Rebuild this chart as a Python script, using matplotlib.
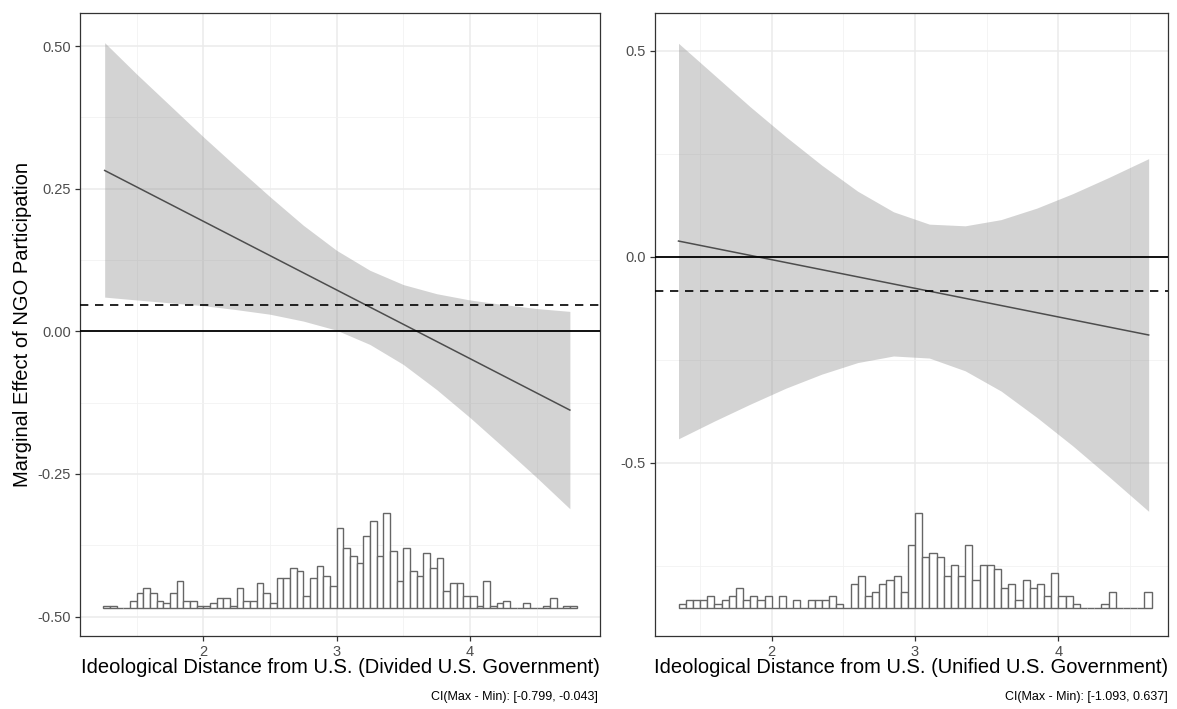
import numpy as np
import matplotlib.pyplot as plt
from matplotlib.ticker import MultipleLocator

plt.rcParams['font.family'] = ['Liberation Sans', 'DejaVu Sans']

# ---- left panel: divided U.S. government ----
div_x = [1.26, 1.5, 1.75, 2.0, 2.25, 2.5, 2.75, 3.0, 3.25, 3.5, 3.75, 4.0, 4.25, 4.5, 4.75]
div_upper = [0.506, 0.451, 0.396, 0.341, 0.288, 0.236, 0.186, 0.142, 0.107, 0.082,
             0.066, 0.055, 0.047, 0.040, 0.035]
div_lower = [0.060, 0.055, 0.050, 0.045, 0.038, 0.030, 0.018, 0.002, -0.023, -0.058,
             -0.102, -0.151, -0.203, -0.256, -0.311]
div_line_x = [1.26, 4.75]
div_line_y = [0.282, -0.138]
div_dashed = 0.046
div_hist_start = 1.25
div_hist_counts = [1, 1, 0, 0, 3, 6, 8, 6, 3, 2, 6, 11, 3, 3, 1, 1, 2, 4, 4, 1,
                   8, 3, 3, 10, 6, 2, 12, 12, 16, 15, 5, 12, 17, 13, 9, 32, 24, 21, 18, 29,
                   35, 21, 38, 23, 11, 24, 15, 13, 22, 16, 20, 7, 10, 10, 5, 5, 1, 11, 1, 2,
                   3, 0, 0, 2, 0, 0, 1, 4, 0, 1, 1]
div_xlabel = "Ideological Distance from U.S. (Divided U.S. Government)"
div_caption = "CI(Max - Min): [-0.799, -0.043]"
div_yticks = [-0.50, -0.25, 0.00, 0.25, 0.50]
div_yticklabels = ["-0.50", "-0.25", "0.00", "0.25", "0.50"]

# ---- right panel: unified U.S. government ----
uni_x = [1.35, 1.6, 1.85, 2.1, 2.35, 2.6, 2.85, 3.1, 3.35, 3.6, 3.85, 4.1, 4.35, 4.63]
uni_upper = [0.518, 0.441, 0.364, 0.291, 0.222, 0.159, 0.109, 0.079, 0.075, 0.090,
             0.118, 0.153, 0.192, 0.238]
uni_lower = [-0.442, -0.399, -0.358, -0.319, -0.285, -0.257, -0.241, -0.246, -0.277,
             -0.326, -0.390, -0.459, -0.533, -0.618]
uni_line_x = [1.35, 4.63]
uni_line_y = [0.038, -0.190]
uni_dashed = -0.084
uni_hist_start = 1.35
uni_hist_counts = [1, 2, 2, 2, 3, 1, 2, 3, 5, 2, 3, 2, 3, 0, 3, 0, 2, 0, 2, 2,
                   2, 3, 1, 0, 6, 8, 3, 4, 6, 7, 8, 4, 16, 24, 13, 14, 13, 8, 11, 8,
                   16, 7, 11, 11, 10, 5, 6, 2, 7, 5, 6, 3, 9, 3, 3, 1, 0, 0, 0, 1,
                   4, 0, 0, 0, 0, 4]
uni_xlabel = "Ideological Distance from U.S. (Unified U.S. Government)"
uni_caption = "CI(Max - Min): [-1.093, 0.637]"
uni_yticks = [-0.5, 0.0, 0.5]
uni_yticklabels = ["-0.5", "0.0", "0.5"]

bin_w = 0.05
W, H = 1177, 709
fig = plt.figure(figsize=(W / 100, H / 100), dpi=100)


def panel(rect, xs, up, lo, lx, ly, dash, hstart, counts, hbase, hscale,
          xlim, ylim, yticks, yticklabels, yminor, xlabel):
    ax = fig.add_axes(rect)
    ax.set_xlim(*xlim)
    ax.set_ylim(*ylim)
    ax.set_xticks([2, 3, 4])
    ax.xaxis.set_minor_locator(MultipleLocator(0.5))
    ax.set_yticks(yticks)
    ax.set_yticklabels(yticklabels)
    ax.yaxis.set_minor_locator(MultipleLocator(yminor))
    ax.grid(which='major', color='#EBEBEB', lw=1.1)
    ax.grid(which='minor', color='#F2F2F2', lw=0.6)
    ax.set_axisbelow(True)
    ax.tick_params(which='major', direction='out', length=3.5, width=0.9,
                   color='#333333', labelsize=10.5, labelcolor='#4D4D4D', pad=3)
    ax.tick_params(which='minor', length=0)
    for s in ax.spines.values():
        s.set_color('#333333')
        s.set_linewidth(0.9)

    ax.fill_between(xs, lo, up, color='#808080', alpha=0.34, lw=0, zorder=2)
    ax.plot(lx, ly, color='#4D4D4D', lw=1.1, zorder=3)
    ax.axhline(0, color='black', lw=1.3, zorder=4)
    ax.axhline(dash, color='black', lw=1.2, ls=(0, (5, 4)), zorder=4)

    left = hstart + bin_w * np.arange(len(counts))
    ax.bar(left, np.array(counts) * hscale, width=bin_w, bottom=hbase, align='edge',
           facecolor='white', edgecolor='#666666', lw=1.0, zorder=3)
    ax.set_xlabel(xlabel, fontsize=14.5, color='black', labelpad=-1)
    return ax


top, bot = 13, 636
ax1 = panel([80 / W, 1 - bot / H, 520 / W, (bot - top) / H],
            div_x, div_upper, div_lower, div_line_x, div_line_y, div_dashed,
            div_hist_start, div_hist_counts, -0.4856, 0.1667 / 38,
            (1.075, 4.976), (-0.534, 0.558), div_yticks, div_yticklabels, 0.125,
            div_xlabel)
ax1.set_ylabel("Marginal Effect of NGO Participation", fontsize=14.5, labelpad=4)

ax2 = panel([655 / W, 1 - bot / H, 513 / W, (bot - top) / H],
            uni_x, uni_upper, uni_lower, uni_line_x, uni_line_y, uni_dashed,
            uni_hist_start, uni_hist_counts, -0.853, 0.2306 / 24,
            (1.186, 4.765), (-0.9206, 0.5915), uni_yticks, uni_yticklabels, 0.25,
            uni_xlabel)

fig.text(598 / W, 1 - 697 / H, div_caption, ha='right', va='center', fontsize=9)
fig.text(1168 / W, 1 - 697 / H, uni_caption, ha='right', va='center', fontsize=9)

fig.savefig("out.png", dpi=100)
